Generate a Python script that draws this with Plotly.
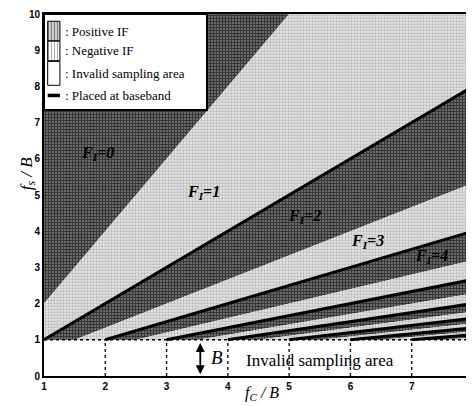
import numpy as np
import plotly.graph_objects as go

# ---- data ----
x_ticks = [1, 2, 3, 4, 5, 6, 7, 8]
y_ticks = [0, 1, 2, 3, 4, 5, 6, 7, 8, 9, 10]
F_index = list(range(0, 16))                 # IF zones F_I = 0..15
zone_boundary_slopes = [2.0 / (F + 1) for F in F_index]   # fs/B = slope * fc/B (lower edge of zone F)
baseband_k = [1, 2, 3, 4, 5, 6, 7]          # baseband lines fs = fc / k, starting at (k, 1)
zone_labels = ["0", "1", "2", "3", "4"]
zone_label_x = [1.87, 3.6, 5.25, 6.28, 7.32]
zone_label_y = [6.14, 5.08, 4.42, 3.72, 3.31]
fs_min = 1.0     # fs/B below this is invalid
x_min, x_max = 1, 8
y_min, y_max = 0, 10

DARK = dict(shape="+", bgcolor="#6e6e6e", fgcolor="#000000", size=3, solidity=0.6)
LIGHT = dict(shape=".", bgcolor="#e6e6e6", fgcolor="#8a8a8a", size=3, solidity=0.45)

fig = go.Figure()

# x positions where clipped boundaries change slope
xs = {x_min, x_max}
for s in zone_boundary_slopes:
    for v in (fs_min / s, y_max / s):
        if x_min < v < x_max:
            xs.add(v)
xs = np.array(sorted(xs))

fig.add_trace(go.Scatter(x=xs, y=np.full(len(xs), y_max), mode="lines",
                         line=dict(width=0), showlegend=False, hoverinfo="skip"))
for F, s in zip(F_index, zone_boundary_slopes):
    y = np.clip(s * xs, fs_min, y_max)
    pat = DARK if F % 2 == 0 else LIGHT
    fig.add_trace(go.Scatter(x=xs, y=y, mode="lines", line=dict(width=0),
                             fill="tonexty", fillcolor=pat["bgcolor"],
                             fillpattern=pat, showlegend=False, hoverinfo="skip"))

# dashed boundary of invalid area
fig.add_trace(go.Scatter(x=[x_min, x_max], y=[fs_min, fs_min], mode="lines",
                         line=dict(color="black", width=1.5, dash="dot"),
                         showlegend=False, hoverinfo="skip"))
for k in x_ticks[1:]:
    fig.add_trace(go.Scatter(x=[k, k], y=[y_min, fs_min], mode="lines",
                             line=dict(color="black", width=1.3, dash="dot"),
                             showlegend=False, hoverinfo="skip"))

# baseband lines
for k in baseband_k:
    xe = np.array([k, x_max])
    fig.add_trace(go.Scatter(x=xe, y=xe / k, mode="lines",
                             line=dict(color="black", width=3),
                             showlegend=False, hoverinfo="skip"))

# ---- manual legend ----
lx0, lx1, ly0, ly1 = 1.0, 3.66, 7.35, 10.0
fig.add_trace(go.Scatter(x=[lx0, lx1, lx1, lx0, lx0], y=[ly0, ly0, ly1, ly1, ly0],
                         mode="lines", line=dict(color="black", width=2),
                         fill="toself", fillcolor="white", showlegend=False, hoverinfo="skip"))
row_y = [9.53, 8.98, 8.36, 7.75]
sw_x0, sw_x1, sw_h = 1.06, 1.26, 0.27
leg_text = [": Positive IF", ": Negative IF", ": Invalid sampling area", ": Placed at baseband"]
for i, pat in enumerate([dict(shape="|", bgcolor="white", fgcolor="black", size=3, solidity=0.6),
                         dict(shape="|", bgcolor="white", fgcolor="#555", size=3, solidity=0.35)]):
    yc = row_y[i]
    fig.add_trace(go.Scatter(x=[sw_x0, sw_x1, sw_x1, sw_x0, sw_x0],
                             y=[yc - sw_h, yc - sw_h, yc + sw_h, yc + sw_h, yc - sw_h],
                             mode="lines", line=dict(color="black", width=1),
                             fill="toself", fillcolor="white", fillpattern=pat,
                             showlegend=False, hoverinfo="skip"))
fig.add_trace(go.Scatter(x=[sw_x0, sw_x1, sw_x1, sw_x0, sw_x0],
                         y=[row_y[2] - 0.33, row_y[2] - 0.33, row_y[2] + 0.33, row_y[2] + 0.33, row_y[2] - 0.33],
                         mode="lines", line=dict(color="black", width=1),
                         fill="toself", fillcolor="white", showlegend=False, hoverinfo="skip"))
fig.add_trace(go.Scatter(x=[sw_x0, sw_x1], y=[row_y[3], row_y[3]], mode="lines",
                         line=dict(color="black", width=3.5), showlegend=False, hoverinfo="skip"))

ann = []
for t, yc in zip(leg_text, row_y):
    ann.append(dict(x=1.31, y=yc, text=t, showarrow=False, xanchor="left", yanchor="middle",
                    font=dict(family="Liberation Serif", size=13, color="black")))

for lab, xl, yl in zip(zone_labels, zone_label_x, zone_label_y):
    ann.append(dict(x=xl, y=yl, text="<b><i>F<sub>I</sub>=" + lab + "</i></b>", showarrow=False,
                    font=dict(family="Liberation Serif", size=16, color="black")))

ann.append(dict(x=5.51, y=0.44, text="Invalid sampling area", showarrow=False,
                font=dict(family="Liberation Serif", size=17, color="black")))
ann.append(dict(x=3.55, y=0.05, ax=3.55, ay=0.95, xref="x", yref="y", axref="x", ayref="y",
                text="", showarrow=True, arrowhead=2, arrowside="end+start",
                arrowwidth=1.8, arrowsize=1, arrowcolor="black"))
ann.append(dict(x=3.82, y=0.5, text="<i>B</i>", showarrow=False,
                font=dict(family="Liberation Serif", size=19, color="black")))

# page body has an 8px default margin: figure is sized to fill the rest of the window
W, H = 466, 398
L, R, T, Bm = 36, 1, 6, 30
pw, ph = W - L - R, H - T - Bm
# axis titles
ann.append(dict(x=(254 - L) / pw, y=-17 / ph, xref="paper", yref="paper", yanchor="middle",
                text="<i>f<sub>C</sub> / B</i>", showarrow=False,
                font=dict(family="Liberation Serif", size=16, color="black")))
ann.append(dict(x=-(L - 7) / pw, y=0.56, xref="paper", yref="paper",
                text="<i>f<sub>s</sub> / B</i>", showarrow=False, textangle=-90,
                font=dict(family="Liberation Serif", size=17, color="black")))

fig.update_layout(
    width=W, height=H,
    margin=dict(l=L, r=R, t=T, b=Bm, autoexpand=False),
    paper_bgcolor="white", plot_bgcolor="white",
    showlegend=False,
    annotations=ann,
    xaxis=dict(range=[x_min, x_max], tickvals=x_ticks, showgrid=False, zeroline=False,
               showline=True, mirror=True, linecolor="black", linewidth=2, ticks="",
               automargin=False,
               tickfont=dict(family="Liberation Sans", size=10, color="black", weight="bold")),
    yaxis=dict(range=[y_min, y_max], tickvals=y_ticks, showgrid=False, zeroline=False,
               showline=True, mirror=True, linecolor="black", linewidth=2, ticks="",
               automargin=False,
               tickfont=dict(family="Liberation Sans", size=10, color="black", weight="bold")),
)

fig.write_html("out.html")
